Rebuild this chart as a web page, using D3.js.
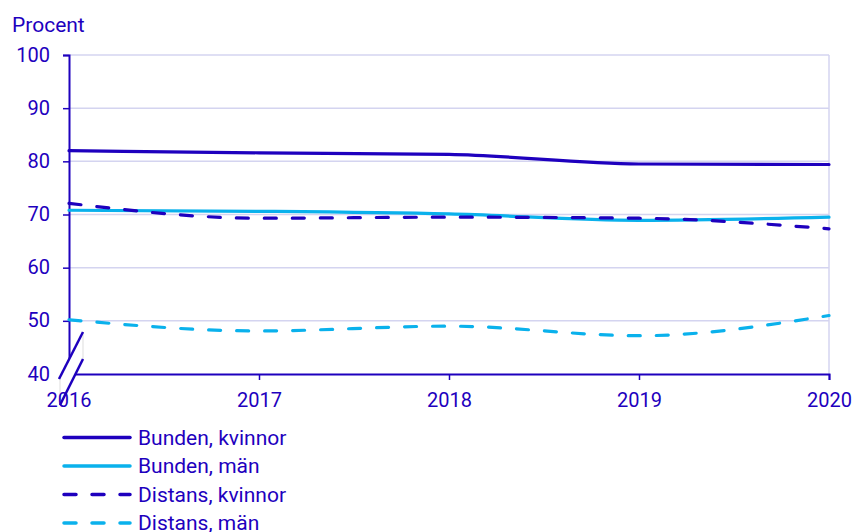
<!DOCTYPE html>
<html>
<head>
<meta charset="utf-8">
<script src="https://cdn.jsdelivr.net/npm/d3@7"></script>
<style>
  html, body { margin: 0; padding: 0; background: #fff; }
  svg { display: block; font-family: Roboto, "Noto Sans", sans-serif; }
</style>
</head>
<body>
<svg id="chart" width="855" height="532"></svg>
<script>
// Years on the x axis
const years = [2016, 2017, 2018, 2019, 2020];
// Shares in percent per series
const bundenKvinnor = [82.0, 81.6, 81.3, 79.5, 79.4];
const bundenMan = [70.8, 70.6, 70.1, 68.9, 69.5];
const distansKvinnor = [72.1, 69.3, 69.5, 69.3, 67.3];
const distansMan = [50.2, 48.1, 49.0, 47.2, 51.0];
const seriesNames = ["Bunden, kvinnor", "Bunden, män", "Distans, kvinnor", "Distans, män"];
const yTicks = [40, 50, 60, 70, 80, 90, 100];

const darkBlue = "#1e00be";
const lightBlue = "#0ab1ec";
const gridColor = "#d4d4f0";
const fontSize = 20;
const labelSize = 21;

const series = [
  { name: seriesNames[0], values: bundenKvinnor, color: darkBlue, dash: null },
  { name: seriesNames[1], values: bundenMan, color: lightBlue, dash: null },
  { name: seriesNames[2], values: distansKvinnor, color: darkBlue, dash: "12,16" },
  { name: seriesNames[3], values: distansMan, color: lightBlue, dash: "12,16" }
];

const svg = d3.select("#chart");
const m = { left: 69, right: 829, top: 55, bottom: 374 };

const x = d3.scalePoint().domain(years).range([m.left, m.right]);
const y = d3.scaleLinear().domain([40, 100]).range([m.bottom, m.top]);

// Horizontal gridlines
svg.append("g").selectAll("line").data(yTicks.filter(d => d > 40)).join("line")
  .attr("x1", m.left).attr("x2", m.right)
  .attr("y1", d => y(d)).attr("y2", d => y(d))
  .attr("stroke", gridColor).attr("stroke-width", 1.5);

// Right frame line
svg.append("line")
  .attr("x1", m.right).attr("x2", m.right)
  .attr("y1", m.top).attr("y2", m.bottom)
  .attr("stroke", gridColor).attr("stroke-width", 1.5);

// Y axis
const yAxis = svg.append("g")
  .attr("transform", `translate(${m.left},0)`)
  .call(d3.axisLeft(y).tickValues(yTicks).tickSize(6).tickPadding(13));
yAxis.select(".domain").attr("stroke", darkBlue).attr("stroke-width", 2);
yAxis.selectAll(".tick line").attr("stroke", darkBlue).attr("stroke-width", 1.5);
yAxis.selectAll(".tick text").attr("fill", darkBlue).attr("font-size", fontSize)
  .attr("dy", "0.3em")
  .style("font-family", "Roboto, sans-serif");

// X axis
const xAxis = svg.append("g")
  .attr("transform", `translate(0,${m.bottom})`)
  .call(d3.axisBottom(x).tickSizeOuter(0).tickSize(6).tickPadding(13).tickFormat(d3.format("d")));
xAxis.select(".domain").attr("stroke", darkBlue).attr("stroke-width", 2);
xAxis.selectAll(".tick line").attr("stroke", darkBlue).attr("stroke-width", 1.5);
xAxis.selectAll(".tick text").attr("fill", darkBlue).attr("font-size", fontSize)
  .attr("dy", "0.7em")
  .style("font-family", "Roboto, sans-serif");

// Axis title
svg.append("text")
  .attr("x", 12).attr("y", 32)
  .attr("fill", darkBlue).attr("font-size", labelSize)
  .text("Procent");

// Series lines
const line = d3.line()
  .x((d, i) => x(years[i]))
  .y(d => y(d))
  .curve(d3.curveMonotoneX);

svg.append("g").selectAll("path").data(series).join("path")
  .attr("d", d => line(d.values))
  .attr("fill", "none")
  .attr("stroke", d => d.color)
  .attr("stroke-width", 3.2)
  .attr("stroke-linecap", "round")
  .attr("stroke-dasharray", d => d.dash);

// Axis break marker at the origin
const brk = svg.append("g");
brk.append("polygon")
  .attr("points", "60,378 83,332 83,359 60,405")
  .attr("fill", "#fff").attr("stroke", "#c8c8c8").attr("stroke-width", 0.6);
brk.append("line").attr("x1", 59).attr("y1", 379).attr("x2", 83).attr("y2", 332)
  .attr("stroke", darkBlue).attr("stroke-width", 2.5);
brk.append("line").attr("x1", 60).attr("y1", 405).attr("x2", 83).attr("y2", 359)
  .attr("stroke", darkBlue).attr("stroke-width", 2.5);
// first year label drawn above the break marker
svg.append("text")
  .attr("x", x(years[0])).attr("y", m.bottom + 19)
  .attr("dy", "0.7em")
  .attr("text-anchor", "middle").attr("fill", darkBlue).attr("font-size", fontSize)
  .text(years[0]);
xAxis.selectAll(".tick text").filter(d => d === years[0]).remove();

// Legend
const legend = svg.append("g");
series.forEach((s, i) => {
  const ly = 437.5 + i * 28.5;
  legend.append("line")
    .attr("x1", 64).attr("x2", 130).attr("y1", ly).attr("y2", ly)
    .attr("stroke", s.color).attr("stroke-width", 3.5)
    .attr("stroke-linecap", "round")
    .attr("stroke-dasharray", s.dash);
  legend.append("text")
    .attr("x", 138).attr("y", ly + 7)
    .attr("fill", darkBlue).attr("font-size", labelSize)
    .text(s.name);
});
</script>
</body>
</html>
